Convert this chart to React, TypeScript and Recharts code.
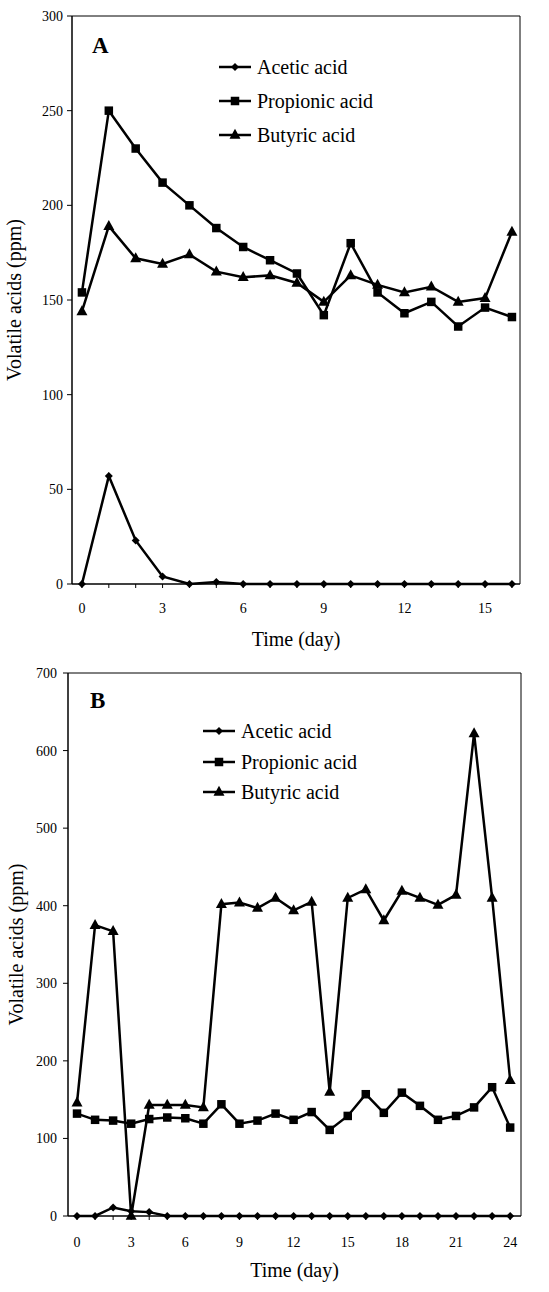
import React from "react";
import {
  LineChart,
  Line,
  XAxis,
  YAxis,
  ReferenceLine,
  Legend,
  Label,
} from "recharts";

// ---------- Data ----------
const daysA = [0, 1, 2, 3, 4, 5, 6, 7, 8, 9, 10, 11, 12, 13, 14, 15, 16];
const aceticA = [0, 57, 23, 4, 0, 1, 0, 0, 0, 0, 0, 0, 0, 0, 0, 0, 0];
const propionicA = [154, 250, 230, 212, 200, 188, 178, 171, 164, 142, 180, 154, 143, 149, 136, 146, 141];
const butyricA = [144, 189, 172, 169, 174, 165, 162, 163, 159, 149, 163, 158, 154, 157, 149, 151, 186];

const daysB = [0, 1, 2, 3, 4, 5, 6, 7, 8, 9, 10, 11, 12, 13, 14, 15, 16, 17, 18, 19, 20, 21, 22, 23, 24];
const aceticB = [0, 0, 11, 6, 5, 0, 0, 0, 0, 0, 0, 0, 0, 0, 0, 0, 0, 0, 0, 0, 0, 0, 0, 0, 0];
const propionicB = [132, 124, 123, 119, 125, 127, 126, 119, 144, 119, 123, 132, 124, 134, 111, 129, 157, 133, 159, 142, 124, 129, 140, 166, 114];
const butyricB = [146, 375, 367, 0, 143, 143, 143, 140, 402, 404, 397, 410, 394, 405, 160, 410, 421, 381, 419, 410, 401, 414, 622, 410, 175];

const yTicksA = [0, 50, 100, 150, 200, 250, 300];
const yTicksB = [0, 100, 200, 300, 400, 500, 600, 700];
const seriesNames = ["Acetic acid", "Propionic acid", "Butyric acid"];

const dataA = daysA.map((d, i) => ({ day: d, acetic: aceticA[i], propionic: propionicA[i], butyric: butyricA[i] }));
const dataB = daysB.map((d, i) => ({ day: d, acetic: aceticB[i], propionic: propionicB[i], butyric: butyricB[i] }));

const FONT = "'Liberation Serif', 'Times New Roman', serif";
const INK = "#000";

// ---------- Markers ----------
const Diamond = (props: any) => {
  const { cx, cy } = props;
  if (cx == null || cy == null) return <g />;
  const r = 4;
  return <polygon points={`${cx},${cy - r} ${cx + r},${cy} ${cx},${cy + r} ${cx - r},${cy}`} fill={INK} />;
};
const Square = (props: any) => {
  const { cx, cy } = props;
  if (cx == null || cy == null) return <g />;
  const s = 8.5;
  return <rect x={cx - s / 2} y={cy - s / 2} width={s} height={s} fill={INK} />;
};
const Triangle = (props: any) => {
  const { cx, cy } = props;
  if (cx == null || cy == null) return <g />;
  const w = 11;
  const h = 10;
  return <polygon points={`${cx},${cy - h * 0.62} ${cx + w / 2},${cy + h * 0.38} ${cx - w / 2},${cy + h * 0.38}`} fill={INK} />;
};
const markers = [Diamond, Square, Triangle];

// ---------- Ticks ----------
const makeXTick = (dy: number) => (props: any) => {
  const { x, y, payload } = props;
  const v = payload.value;
  return (
    <g>
      <line x1={x} x2={x} y1={y} y2={y + 4} stroke={INK} strokeWidth={1} />
      {v % 3 === 0 && (
        <text x={x} y={y + dy} textAnchor="middle" fontSize={14} fontFamily={FONT} fill={INK}>
          {v}
        </text>
      )}
    </g>
  );
};
const makeYTick = (gap: number) => (props: any) => {
  const { x, y, payload } = props;
  return (
    <g>
      <line x1={x - 5} x2={x} y1={y} y2={y} stroke={INK} strokeWidth={1} />
      <text x={x - gap} y={y + 5} textAnchor="end" fontSize={14} fontFamily={FONT} fill={INK}>
        {payload.value}
      </text>
    </g>
  );
};

// ---------- Legend ----------
const makeLegend = (rowGap: number, lineW: number) => () => (
  <div style={{ fontFamily: FONT, fontSize: 20, color: INK }}>
    {seriesNames.map((name, i) => {
      const M = markers[i];
      return (
        <div key={name} style={{ display: "flex", alignItems: "center", height: rowGap }}>
          <svg width={lineW + 4} height={14} style={{ display: "block" }}>
            <line x1={0} x2={lineW} y1={7} y2={7} stroke={INK} strokeWidth={2.5} />
            <M cx={lineW / 2} cy={7} />
          </svg>
          <span style={{ marginLeft: 2, lineHeight: 1 }}>{name}</span>
        </div>
      );
    })}
  </div>
);

const xTitle = (dy: number) => (props: any) => {
  const vb = props.viewBox;
  return (
    <text x={vb.x + vb.width / 2} y={vb.y + dy} textAnchor="middle" fontSize={20} fontFamily={FONT} fill={INK}>
      Time (day)
    </text>
  );
};
const yTitle = (cx: number) => (props: any) => {
  const vb = props.viewBox;
  const cy = vb.y + vb.height / 2;
  return (
    <text
      x={cx}
      y={cy}
      transform={`rotate(-90, ${cx}, ${cy})`}
      textAnchor="middle"
      fontSize={20}
      fontFamily={FONT}
      fill={INK}
    >
      Volatile acids (ppm)
    </text>
  );
};

const seriesKeys = ["acetic", "propionic", "butyric"];

function Panel(props: {
  data: any[];
  height: number;
  margin: any;
  yWidth: number;
  xDomain: [number, number];
  xTicks: number[];
  yDomain: [number, number];
  yTicks: number[];
  xTickDy: number;
  yTickGap: number;
  xTitleDy: number;
  yTitleX: number;
  legendTop: number;
  legendLeft: number;
  legendRow: number;
  legendLineW: number;
}) {
  const p = props;
  return (
    <LineChart width={549} height={p.height} data={p.data} margin={p.margin}>
      <XAxis
        dataKey="day"
        type="number"
        domain={p.xDomain}
        ticks={p.xTicks}
        interval={0}
        tickSize={0}
        tickMargin={0}
        tickLine={false}
        axisLine={{ stroke: INK, strokeWidth: 1.5 }}
        tick={makeXTick(p.xTickDy)}
        height={70}
      >
        <Label content={xTitle(p.xTitleDy)} />
      </XAxis>
      <YAxis
        type="number"
        domain={p.yDomain}
        ticks={p.yTicks}
        interval={0}
        tickSize={0}
        tickMargin={0}
        tickLine={false}
        axisLine={{ stroke: INK, strokeWidth: 1.5 }}
        tick={makeYTick(p.yTickGap)}
        width={p.yWidth}
      >
        <Label content={yTitle(p.yTitleX)} />
      </YAxis>
      <ReferenceLine y={p.yDomain[1]} stroke={INK} strokeWidth={1} ifOverflow="visible" />
      <ReferenceLine x={p.xDomain[1]} stroke={INK} strokeWidth={1} ifOverflow="visible" />
      <Legend
        layout="vertical"
        align="center"
        verticalAlign="middle"
        content={makeLegend(p.legendRow, p.legendLineW)}
        wrapperStyle={{ top: p.legendTop, left: p.legendLeft, width: 240, height: 110 }}
      />
      {seriesKeys.map((k, i) => {
        const M = markers[i];
        return (
          <Line
            key={k}
            dataKey={k}
            name={seriesNames[i]}
            stroke={INK}
            strokeWidth={2.5}
            dot={(dp: any) => <M key={`${k}-${dp.index}`} cx={dp.cx} cy={dp.cy} />}
            activeDot={false}
            isAnimationActive={false}
            type="linear"
          />
        );
      })}
    </LineChart>
  );
}

export default function App() {
  return (
    <div style={{ position: "absolute", top: 0, left: 0, width: 549, height: 1292, background: "#fff", fontFamily: FONT }}>
      <div style={{ position: "absolute", top: 0, left: 0 }}>
        <Panel
          data={dataA}
          height={660}
          margin={{ top: 16, right: 29, left: 0, bottom: 6 }}
          yWidth={72}
          xDomain={[-0.37, 16.3]}
          xTicks={daysA}
          yDomain={[0, 300]}
          yTicks={yTicksA}
          xTickDy={29}
          yTickGap={9}
          xTitleDy={62}
          yTitleX={21}
          legendTop={50}
          legendLeft={219}
          legendRow={34}
          legendLineW={32}
        />
        <div style={{ position: "absolute", left: 92, top: 34, fontSize: 23, fontWeight: "bold", fontFamily: FONT, lineHeight: 1 }}>
          A
        </div>
      </div>
      <div style={{ position: "absolute", top: 660, left: 0 }}>
        <Panel
          data={dataB}
          height={632}
          margin={{ top: 13, right: 28, left: 0, bottom: 6 }}
          yWidth={68}
          xDomain={[-0.5, 24.6]}
          xTicks={daysB}
          yDomain={[0, 700]}
          yTicks={yTicksB}
          xTickDy={31}
          yTickGap={11}
          xTitleDy={61}
          yTitleX={23}
          legendTop={56}
          legendLeft={203}
          legendRow={30.5}
          legendLineW={32}
        />
        <div style={{ position: "absolute", left: 90, top: 29, fontSize: 23, fontWeight: "bold", fontFamily: FONT, lineHeight: 1 }}>
          B
        </div>
      </div>
    </div>
  );
}
